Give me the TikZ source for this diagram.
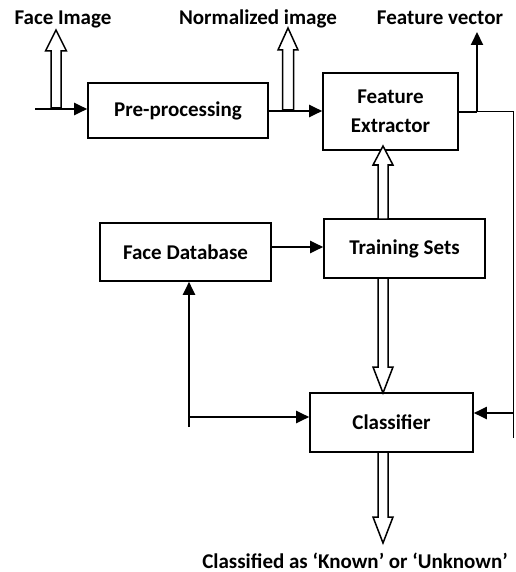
\documentclass[tikz,border=0pt]{standalone}
\usepackage{fontspec}
\setmainfont{Carlito}
\usetikzlibrary{arrows.meta}
\begin{document}
\begin{tikzpicture}[x=1pt,y=-1pt,
  box/.style={draw,line width=1.6pt,rectangle,inner sep=0pt,font=\bfseries\fontsize{21}{29}\selectfont,align=center},
  lbl/.style={font=\bfseries\fontsize{21}{25}\selectfont,inner sep=0pt,anchor=base},
  conn/.style={line width=2pt,-{Triangle[length=13pt,width=12pt]}},
  plain/.style={line width=1.6pt},
  thin/.style={line width=1pt},
  hollow/.style={draw,line width=1.5pt,fill=white,line join=miter}]
\useasboundingbox (0,0) rectangle (515,572);
\newcommand\harrow[6]{% cx, base, headbase, tip, shaft half, head half
  \draw[hollow] (#1-#5,#2) -- (#1-#5,#3) -- (#1-#6,#3) -- (#1,#4) -- (#1+#6,#3) -- (#1+#5,#3) -- (#1+#5,#2) -- cycle;}

% boxes
\node[box,minimum width=180pt,minimum height=55pt] (pp) at (178,110.5) {Pre-processing};
\node[box,minimum width=135pt,minimum height=77pt] (fe) at (390.5,111.5) {Feature\\Extractor};
\node[box,minimum width=171pt,minimum height=58pt] (fdb) at (185.5,252) {Face Database};
\node[box,minimum width=161pt,minimum height=59pt] (ts) at (404.5,248.5) {Training Sets};
\node[box,minimum width=163pt,minimum height=59pt] (cl) at (391.5,422.5) {Classifier};

% labels
\node[lbl] (lfi) at (63,25) {Face Image};
\node[lbl] (lni) at (258,25) {Normalized image};
\node[lbl] (lfv) at (440,25) {Feature vector};
\node[lbl] (lout) at (355,568) {Classified as ‘Known’ or ‘Unknown’};

% coordinates
\coordinate (in) at (35,109);
\coordinate (fvb) at (477,112);
\coordinate (fvt) at (477,32);
\coordinate (rtop) at (513,112);
\coordinate (rbot) at (513,438);
\coordinate (rcl) at (513,413);
\coordinate (lbot) at (189,427);
\coordinate (lmid) at (189,417);

% connectors
\draw[conn] (in) -- (in -| pp.west);
\draw[conn] (pp.east |- 0,111) -- (fe.west |- 0,111);
\draw[plain] (fe.east |- fvb) -- (fvb);
\draw[thin] (fvb) -- (rtop) -- (rbot);
\draw[conn] (fvb) -- (fvt);
\draw[conn] (rcl) -- (rcl -| cl.east);
\draw[conn] (fdb.east |- 0,247) -- (ts.west |- 0,247);
\draw[conn] (lbot) -- (lbot |- fdb.south);
\draw[conn] (lmid) -- (lmid -| cl.west);

% hollow arrows
\harrow{56}{108}{51}{30}{5}{10.5}
\harrow{288}{110}{50}{28}{5.5}{10}
\harrow{383}{219}{165}{146}{5}{10}
\harrow{383}{278}{367}{393}{5}{10}
\harrow{383}{452}{517}{543}{5}{10}
\end{tikzpicture}
\end{document}
